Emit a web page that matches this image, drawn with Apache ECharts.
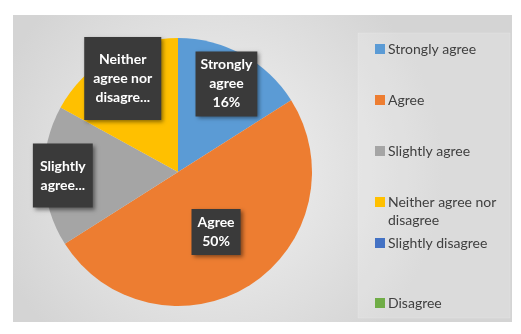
<!DOCTYPE html>
<html>
<head>
<meta charset="utf-8">
<script src="https://cdn.jsdelivr.net/npm/echarts@6/dist/echarts.min.js"></script>
<style>
  html, body { margin: 0; padding: 0; background: #fff; }
  #chart { width: 521px; height: 334px; }
</style>
</head>
<body>
<div id="chart"></div>
<script>
// Survey answers (percent)
var categories = ['Strongly agree', 'Agree', 'Slightly agree', 'Neither agree nor disagree', 'Slightly disagree', 'Disagree'];
var values = [16, 50, 17, 17, 0, 0];
// text shown in the data-label boxes (Excel truncated some of them)
var labelNames = ['Strongly\nagree', 'Agree', 'Slightly\nagree...', 'Neither\nagree nor\ndisagre...', '', ''];
var showPercent = [true, true, false, false, false, false];

var colors = ['#5B9BD5', '#ED7D31', '#A5A5A5', '#FFC000', '#4472C4', '#70AD47'];

// label placement: fraction of radius along the slice middle, box padding
var labelRadius = [0.75, 0.53, 0.86, 0.81, 0.5, 0.5];
var labelPad = [[4, 5], [4, 6], [13, 7], [13, 9], [4, 4], [4, 4]];

var cx = 178, cy = 172, R = 134;

var chart = echarts.init(document.getElementById('chart'));

var total = values.reduce(function (a, b) { return a + b; }, 0);
var midAngles = [];
var acc = 0;
values.forEach(function (v) {
  midAngles.push((acc + v / 2) / total * 2 * Math.PI);
  acc += v;
});

var pieData = categories.map(function (name, i) {
  return {
    name: name,
    value: values[i],
    label: { show: values[i] > 0, padding: labelPad[i] }
  };
});

var legendText = {
  fontFamily: 'Lato', fontSize: 14, color: '#404040',
  lineHeight: 18, width: 132, overflow: 'break', padding: [0, 0, 0, -2]
};

function legendBlock(names, top, gap, iconH) {
  return {
    orient: 'vertical',
    left: 370,
    top: top,
    itemGap: gap,
    itemWidth: 10,
    itemHeight: iconH || 10,
    icon: 'rect',
    data: names,
    textStyle: legendText
  };
}

// the wrapped entry: a marker whose square sits at the top of a taller box,
// so it lines up with the first text line as in Excel
var topSquareIcon = 'path://M0,0L10,0L10,10L0,10Z M0,27.9L0.1,27.9L0.1,28L0,28Z';

var option = {
  backgroundColor: '#ffffff',
  color: colors,
  graphic: [
    {
      type: 'rect',
      z: -10,
      shape: { x: 13, y: 15, width: 499, height: 307 },
      style: {
        fill: new echarts.graphic.RadialGradient(0.4, 0.5, 0.75, [
          { offset: 0, color: '#f4f4f4' },
          { offset: 1, color: '#d4d4d4' }
        ])
      }
    },
    {
      type: 'rect',
      z: -9,
      shape: { x: 358, y: 33, width: 152, height: 285 },
      style: { fill: 'rgba(255,255,255,0.18)', stroke: 'rgba(255,255,255,0.15)', lineWidth: 1 }
    }
  ],
  legend: [
    legendBlock(categories.slice(0, 3), 35, 33),
    legendBlock([{ name: categories[3], icon: topSquareIcon }], 188, 0, 28),
    legendBlock(categories.slice(4), 229, 42)
  ],
  series: [{
    type: 'pie',
    center: [cx, cy],
    radius: [0, R],
    startAngle: 90,
    clockwise: true,
    silent: true,
    data: pieData,
    label: {
      position: 'inside',
      formatter: function (p) {
        var t = labelNames[p.dataIndex];
        if (showPercent[p.dataIndex]) t += '\n' + Math.round(p.percent) + '%';
        return t;
      },
      color: '#ffffff',
      fontFamily: 'Lato',
      fontWeight: 'bold',
      fontSize: 14,
      lineHeight: 19,
      align: 'center',
      backgroundColor: '#3a3a3a',
      shadowColor: 'rgba(0,0,0,0.45)',
      shadowBlur: 4,
      shadowOffsetX: 2,
      shadowOffsetY: 2
    },
    labelLine: { show: false },
    labelLayout: function (params) {
      var i = params.dataIndex;
      var r = params.labelRect;
      var a = midAngles[i];
      var tx = cx + labelRadius[i] * R * Math.sin(a);
      var ty = cy - labelRadius[i] * R * Math.cos(a);
      return {
        dx: tx - (r.x + r.width / 2),
        dy: ty - (r.y + r.height / 2)
      };
    }
  }]
};

chart.setOption(option);
</script>
</body>
</html>
